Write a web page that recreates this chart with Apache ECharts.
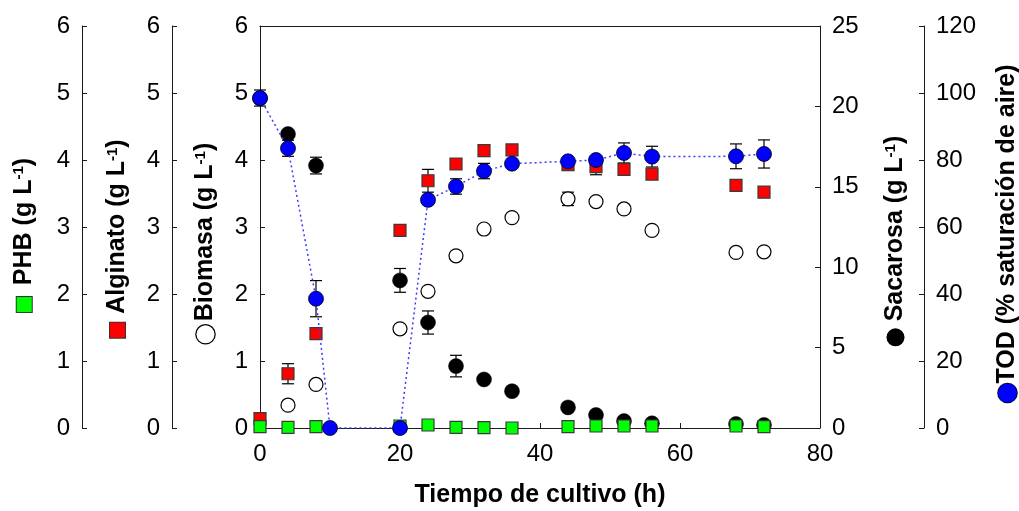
<!DOCTYPE html>
<html>
<head>
<meta charset="utf-8">
<script src="https://cdn.jsdelivr.net/npm/echarts@6/dist/echarts.min.js"></script>
<style>
  html, body { margin: 0; padding: 0; background: #fff; }
  #chart { width: 1019px; height: 511px; }
</style>
</head>
<body>
<div id="chart"></div>
<script>
// Sampling times (h)
const hours = [0, 4, 8, 10, 20, 24, 28, 32, 36, 44, 48, 52, 56, 68, 72];

// PHB (g/L)
const phb = [0.02, 0.01, 0.02, null, 0.03, 0.045, 0.01, 0.005, 0.0, 0.02, 0.03, 0.03, 0.03, 0.03, 0.02];
const phbErr = [0, 0, 0, 0, 0, 0, 0, 0, 0, 0, 0, 0, 0, 0, 0];

// Alginato (g/L)
const alginato = [0.14, 0.81, 1.41, null, 2.95, 3.69, 3.94, 4.14, 4.15, 3.93, 3.90, 3.86, 3.79, 3.62, 3.52];
const alginatoErr = [0, 0.15, 0, 0, 0, 0.17, 0, 0, 0, 0, 0.12, 0, 0, 0, 0];

// Biomasa (g/L)
const biomasa = [null, 0.34, 0.65, null, 1.48, 2.04, 2.57, 2.97, 3.14, 3.42, 3.38, 3.27, 2.95, 2.62, 2.63];
const biomasaErr = [0, 0, 0, 0, 0, 0, 0, 0, 0, 0.1, 0, 0, 0, 0, 0];

// Sacarosa (g/L)
const sacarosa = [20.5, 18.28, 16.32, null, 9.18, 6.56, 3.85, 3.02, 2.29, 1.28, 0.81, 0.43, 0.29, 0.25, 0.19];
const sacarosaErr = [0, 0, 0.52, 0, 0.74, 0.72, 0.67, 0, 0, 0, 0, 0, 0, 0, 0];

// TOD (% saturación de aire)
const tod = [98.5, 83.5, 38.6, 0, 0, 68.1, 72.1, 76.7, 78.9, 79.6, 80.0, 82.1, 81.0, 81.1, 81.8];
const todErr = [2.4, 2.4, 5.4, 0, 0, 1.2, 2.3, 2.3, 1.0, 0.8, 0.8, 3.0, 3.1, 3.7, 4.2];

const FONT = '"Liberation Sans", Arial, Helvetica, sans-serif';
const AXIS_COLOR = '#1a1a1a';
const NBSP = '\u00a0';

function pairs(vals) {
  return hours.map((h, i) => vals[i] == null ? null : [h, vals[i]]).filter(Boolean);
}
function errRanges(vals, errs) {
  return hours.map((h, i) => (vals[i] != null && errs[i] > 0) ? [h, vals[i] - errs[i], vals[i] + errs[i]] : null).filter(Boolean);
}

function renderErrorBar(params, api) {
  const x = api.value(0);
  const lo = api.coord([x, api.value(1)]);
  const hi = api.coord([x, api.value(2)]);
  const half = 6;
  const style = { stroke: '#000', lineWidth: 1.2 };
  return {
    type: 'group',
    children: [
      { type: 'line', shape: { x1: lo[0], y1: lo[1], x2: hi[0], y2: hi[1] }, style },
      { type: 'line', shape: { x1: lo[0] - half, y1: lo[1], x2: lo[0] + half, y2: lo[1] }, style },
      { type: 'line', shape: { x1: hi[0] - half, y1: hi[1], x2: hi[0] + half, y2: hi[1] }, style }
    ]
  };
}

function errorSeries(vals, errs, yIdx) {
  return {
    type: 'custom',
    xAxisIndex: 0,
    yAxisIndex: yIdx,
    z: 1,
    silent: true,
    renderItem: renderErrorBar,
    encode: { x: 0, y: [1, 2] },
    data: errRanges(vals, errs)
  };
}

// Rich styles for the axis titles: coloured symbol key, spacer, bold text, superscript.
// Spacers are no-break spaces whose font size sets the gap (space ≈ 0.28 em).
const titleRich = {
  t: { fontSize: 25, fontWeight: 'bold', fontFamily: FONT, color: '#000' },
  s: { fontSize: 15, fontWeight: 'bold', fontFamily: FONT, color: '#000', verticalAlign: 'top' },
  gsq: { width: 15, height: 15, backgroundColor: '#00ff00', borderColor: '#333', borderWidth: 1 },
  rsq: { width: 15, height: 15, backgroundColor: '#ff0000', borderColor: '#333', borderWidth: 1 },
  oc: { width: 18, height: 18, backgroundColor: '#fff', borderColor: '#000', borderWidth: 1.3, borderRadius: 9 },
  bc: { width: 18, height: 18, backgroundColor: '#000', borderRadius: 9 },
  uc: { width: 19, height: 19, backgroundColor: '#0000ff', borderColor: '#000', borderWidth: 0.8, borderRadius: 10 },
  sp4: { fontSize: 14, lineHeight: 4, fontFamily: FONT },
  sp7: { fontSize: 25, lineHeight: 4, fontFamily: FONT },
  sp9: { fontSize: 32, lineHeight: 4, fontFamily: FONT },
  sp12: { fontSize: 43, lineHeight: 4, fontFamily: FONT }
};

function title(key, gap, text) {
  return '{' + key + '|}' + (gap ? '{' + gap + '|' + NBSP + '}' : '') + text;
}

function yAxis(opts, shift) {
  return Object.assign({
    type: 'value',
    axisLine: { show: true, onZero: false, lineStyle: { color: AXIS_COLOR, width: 1 } },
    axisTick: { show: true, inside: true, length: 5, lineStyle: { color: AXIS_COLOR, width: 1 } },
    axisLabel: { fontSize: 24, color: '#000', fontFamily: FONT, margin: 12 },
    splitLine: { show: false },
    nameLocation: 'middle',
    nameRotate: 90,
    nameGap: 42,
    nameTextStyle: { rich: titleRich, padding: [0, shift, 0, 0] }
  }, opts);
}

const chart = echarts.init(document.getElementById('chart'), null, { renderer: 'canvas' });

chart.setOption({
  backgroundColor: '#fff',
  animation: false,
  grid: { left: 260, right: 199, top: 26, bottom: 83, containLabel: false, outerBoundsMode: 'none' },
  xAxis: [
    {
      type: 'value', min: 0, max: 80, interval: 20,
      axisLine: { show: true, onZero: false, lineStyle: { color: AXIS_COLOR, width: 1 } },
      axisTick: { show: true, inside: true, length: 5, lineStyle: { color: AXIS_COLOR } },
      axisLabel: { fontSize: 24, color: '#000', fontFamily: FONT, margin: 14 },
      splitLine: { show: false },
      name: 'Tiempo de cultivo (h)',
      nameLocation: 'middle',
      nameGap: 55,
      nameTextStyle: { fontSize: 25, fontWeight: 'bold', fontFamily: FONT, color: '#000' }
    },
    {
      type: 'value', min: 0, max: 80, position: 'top',
      axisLine: { show: true, onZero: false, lineStyle: { color: AXIS_COLOR, width: 1 } },
      axisTick: { show: false },
      axisLabel: { show: false },
      splitLine: { show: false }
    }
  ],
  yAxis: [
    yAxis({ min: 0, max: 6, interval: 1, position: 'left', offset: 178,
            name: title('gsq', 'sp12', '{t|PHB (g L}{s|-1}{t|)}') }, 16),
    yAxis({ min: 0, max: 6, interval: 1, position: 'left', offset: 88,
            name: title('rsq', 'sp9', '{t|Alginato (g L}{s|-1}{t|)}') }, 23),
    yAxis({ min: 0, max: 6, interval: 1, position: 'left', offset: 0,
            name: title('oc', 'sp4', '{t|Biomasa (g L}{s|-1}{t|)}') }, 32),
    yAxis({ min: 0, max: 25, interval: 5, position: 'right', offset: 0,
            nameGap: 63,
            name: title('bc', 'sp7', '{t|Sacarosa (g L}{s|-1}{t|)}') }, 28),
    yAxis({ min: 0, max: 120, interval: 20, position: 'right', offset: 104,
            nameGap: 71,
            name: title('uc', null, '{t|TOD (% saturación de aire)}') }, 13)
  ],
  series: [
    errorSeries(sacarosa, sacarosaErr, 3),
    errorSeries(biomasa, biomasaErr, 2),
    errorSeries(alginato, alginatoErr, 1),
    errorSeries(phb, phbErr, 0),
    errorSeries(tod, todErr, 4),
    {
      name: 'Sacarosa', type: 'scatter', yAxisIndex: 3, z: 2,
      symbol: 'circle', symbolSize: 15,
      itemStyle: { color: '#000', borderColor: '#000', borderWidth: 0.5, opacity: 1 },
      data: pairs(sacarosa)
    },
    {
      name: 'Biomasa', type: 'scatter', yAxisIndex: 2, z: 3,
      symbol: 'circle', symbolSize: 14,
      itemStyle: { color: '#fff', borderColor: '#000', borderWidth: 1.2, opacity: 1 },
      data: pairs(biomasa)
    },
    {
      name: 'Alginato', type: 'scatter', yAxisIndex: 1, z: 4,
      symbol: 'rect', symbolSize: 12,
      itemStyle: { color: '#ff0000', borderColor: '#3a3a3a', borderWidth: 1.2, opacity: 1 },
      data: pairs(alginato)
    },
    {
      name: 'PHB', type: 'scatter', yAxisIndex: 0, z: 5,
      symbol: 'rect', symbolSize: 12,
      itemStyle: { color: '#00ff00', borderColor: '#3a3a3a', borderWidth: 1.2, opacity: 1 },
      data: pairs(phb)
    },
    {
      name: 'TOD', type: 'line', yAxisIndex: 4, z: 6,
      symbol: 'circle', symbolSize: 15, showSymbol: true,
      lineStyle: { color: '#3a3aff', width: 1.5, type: [2, 3] },
      itemStyle: { color: '#0000ff', borderColor: '#000', borderWidth: 0.8, opacity: 1 },
      data: pairs(tod)
    }
  ]
});
</script>
</body>
</html>
